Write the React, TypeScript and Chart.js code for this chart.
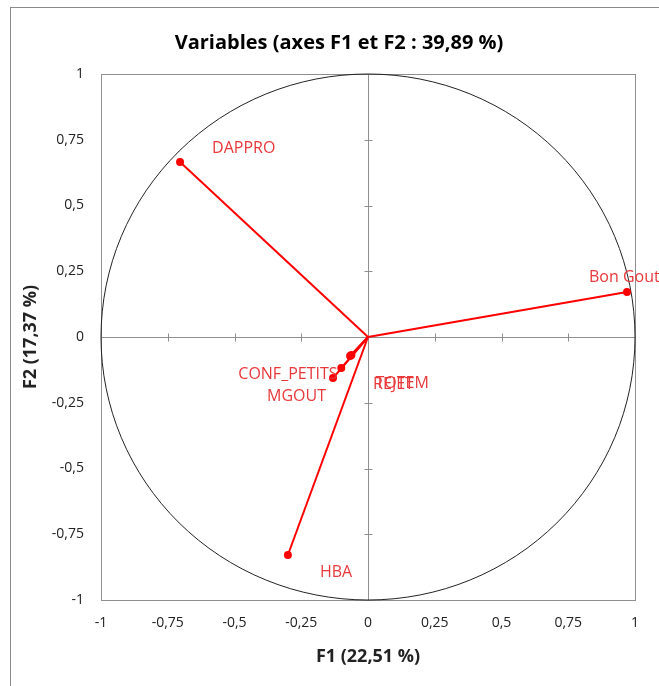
import React, { useEffect, useRef } from 'react';
import { Chart, registerables } from 'chart.js';
Chart.register(...registerables);

const variables = ['DAPPRO', 'Bon Gout', 'HBA', 'CONF_PETITS', 'MGOUT', 'REJET', 'TOTEM'];
const f1 = [-0.704, 0.97, -0.3, -0.1, -0.131, -0.067, -0.062];
const f2 = [0.665, 0.171, -0.829, -0.118, -0.156, -0.072, -0.068];
const tickValues = [-1, -0.75, -0.5, -0.25, 0, 0.25, 0.5, 0.75, 1];
const chartTitle = 'Variables (axes F1 et F2 : 39,89 %)';
const xTitle = 'F1 (22,51 %)';
const yTitle = 'F2 (17,37 %)';
// label offsets in pixels (style only)
const labelOffsets: [number, number][] = [[32, -14], [-38, -15], [32, 17], [-103, 6], [-66, 18], [23, 29], [24, 29]];

const FONT = "'Open Sans', 'DejaVu Sans', sans-serif";
const fmt = (v: number) => String(v).replace('.', ',');

export default function App() {
  const ref = useRef<HTMLCanvasElement | null>(null);
  useEffect(() => {
    document.body.style.margin = '0';
    const canvas = ref.current!;
    const decor = {
      id: 'decor',
      beforeDatasetsDraw(chart: any) {
        const { ctx, chartArea: a, scales } = chart;
        const xs = scales.x, ys = scales.y;
        ctx.save();
        ctx.strokeStyle = '#8f8f8f';
        ctx.lineWidth = 1;
        ctx.strokeRect(Math.round(a.left) + 0.5, Math.round(a.top) + 0.5, Math.round(a.right - a.left), Math.round(a.bottom - a.top));
        const x0 = Math.round(xs.getPixelForValue(0)) + 0.5;
        const y0 = Math.round(ys.getPixelForValue(0)) + 0.5;
        ctx.beginPath();
        ctx.moveTo(x0, a.top);
        ctx.lineTo(x0, a.bottom);
        ctx.moveTo(a.left, y0);
        ctx.lineTo(a.right, y0);
        tickValues.forEach((v) => {
          if (v === 0 || Math.abs(v) === 1) return;
          const px = Math.round(xs.getPixelForValue(v)) + 0.5;
          ctx.moveTo(px, y0 - 4);
          ctx.lineTo(px, y0 + 4);
          const py = Math.round(ys.getPixelForValue(v)) + 0.5;
          ctx.moveTo(x0 - 4, py);
          ctx.lineTo(x0 + 4, py);
        });
        ctx.stroke();
        const cx = xs.getPixelForValue(0), cy = ys.getPixelForValue(0);
        const rx = xs.getPixelForValue(1) - cx, ry = cy - ys.getPixelForValue(1);
        ctx.beginPath();
        ctx.ellipse(cx, cy, rx, ry, 0, 0, Math.PI * 2);
        ctx.strokeStyle = '#222222';
        ctx.stroke();
        ctx.restore();
      },
      afterDatasetsDraw(chart: any) {
        const { ctx, scales } = chart;
        ctx.save();
        ctx.font = `16px ${FONT}`;
        ctx.fillStyle = '#e8383a';
        ctx.textAlign = 'left';
        ctx.textBaseline = 'middle';
        variables.forEach((name, i) => {
          const px = scales.x.getPixelForValue(f1[i]);
          const py = scales.y.getPixelForValue(f2[i]);
          ctx.fillText(name, px + labelOffsets[i][0], py + labelOffsets[i][1]);
        });
        ctx.restore();
      },
      afterDraw(chart: any) {
        const { ctx } = chart;
        ctx.save();
        ctx.font = `bold 20px ${FONT}`;
        ctx.fillStyle = '#000';
        ctx.textAlign = 'center';
        ctx.textBaseline = 'middle';
        ctx.fillText(chartTitle, 339, 43);
        ctx.strokeStyle = '#8a8a8a';
        ctx.lineWidth = 1;
        ctx.strokeRect(10.5, 7.5, 800, 800);
        ctx.restore();
      },
    };
    const datasets = variables.map((name, i) => ({
      label: name,
      data: [{ x: 0, y: 0 }, { x: f1[i], y: f2[i] }],
      showLine: true,
      borderColor: '#ff0000',
      backgroundColor: '#ff0000',
      borderWidth: 2,
      pointRadius: [0, 4],
      pointHoverRadius: [0, 4],
      pointBorderWidth: 0,
      pointBackgroundColor: '#ff0000',
      clip: false as any,
    }));
    const chart = new Chart(canvas, {
      type: 'scatter',
      data: { datasets },
      options: {
        animation: false,
        responsive: false,
        devicePixelRatio: 1,
        layout: { padding: { top: 74, left: 0, right: 24, bottom: 0 } },
        plugins: { legend: { display: false }, tooltip: { enabled: false }, title: { display: false } },
        scales: {
          x: {
            type: 'linear',
            min: -1,
            max: 1,
            afterBuildTicks: (s: any) => { s.ticks = tickValues.map((v) => ({ value: v })); },
            afterFit: (s: any) => { s.height = 86; },
            grid: { display: false, drawTicks: false },
            border: { display: false },
            ticks: { padding: 15, color: '#222', font: { family: FONT, size: 14 }, callback: (v: any) => fmt(Number(v)), maxRotation: 0, autoSkip: false },
            title: { display: true, text: xTitle, color: '#222', font: { family: FONT, size: 18, weight: 'bold' }, padding: { top: 0, bottom: 18 } },
          },
          y: {
            type: 'linear',
            min: -1,
            max: 1,
            afterBuildTicks: (s: any) => { s.ticks = tickValues.map((v) => ({ value: v })); },
            afterFit: (s: any) => { s.width = 101; },
            grid: { display: false, drawTicks: false },
            border: { display: false },
            ticks: { padding: 17, color: '#222', font: { family: FONT, size: 14 }, callback: (v: any) => fmt(Number(v)), autoSkip: false },
            title: { display: true, text: yTitle, color: '#222', font: { family: FONT, size: 18, weight: 'bold' }, padding: { top: 20, bottom: 0 } },
          },
        },
      },
      plugins: [decor],
    });
    return () => chart.destroy();
  }, []);
  return (
    <div style={{ width: 659, height: 686 }}>
      <canvas ref={ref} width={659} height={686} style={{ display: 'block', width: 659, height: 686 }} />
    </div>
  );
}
